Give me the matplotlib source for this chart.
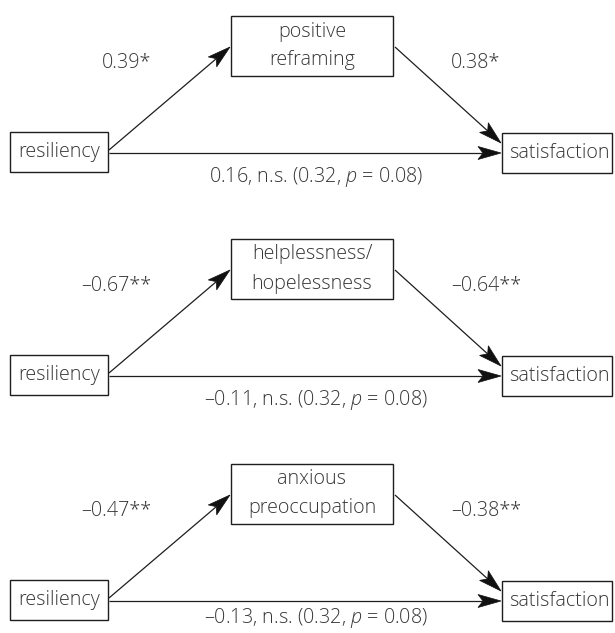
import matplotlib
matplotlib.use("Agg")
import matplotlib.pyplot as plt
from matplotlib.patches import Rectangle, Polygon
import numpy as np

plt.rcParams['font.family'] = ['Open Sans', 'DejaVu Sans']
plt.rcParams['mathtext.fontset'] = 'custom'
plt.rcParams['mathtext.it'] = 'Open Sans:italic:light'
plt.rcParams['mathtext.rm'] = 'Open Sans:light'

# donnees du modele de mediation
predictor = "resiliency"
outcome = "satisfaction"
mediators = ["positive\nreframing", "helplessness/\nhopelessness", "anxious\npreoccupation"]
a_paths = ["0.39*", "\u20130.67**", "\u20130.47**"]
b_paths = ["0.38*", "\u20130.64**", "\u20130.38**"]
direct = ["0.16", "\u20130.11", "\u20130.13"]
total = "(0.32, $p$ = 0.08)"

# mise en page (pixels)
W, H = 615, 633
row_y = [152, 375, 600]
cap_dy = [25, 25, 18]
txt_col = "#363636"
box_col = "#1e1e1e"
fs = 14.2
fw = 'light'


def box(ax, x0, x1, y0, y1):
    ax.add_patch(Rectangle((x0, y0), x1 - x0, y1 - y0, fill=False,
                           ec=box_col, lw=1.0))


def arrow(ax, x0, y0, x1, y1, L=23, hw=6.5, notch=5):
    d = np.array([x1 - x0, y1 - y0], dtype=float)
    u = d / np.hypot(*d)
    p = np.array([-u[1], u[0]])
    tip = np.array([x1, y1])
    base = tip - u * L
    nb = tip - u * (L - notch)
    ax.plot([x0, nb[0]], [y0, nb[1]], color=box_col, lw=0.9,
            solid_capstyle='butt')
    ax.add_patch(Polygon([tip, base + p * hw, nb, base - p * hw],
                         closed=True, fc="#111111", ec="#111111", lw=0.5))


fig = plt.figure(figsize=(W / 100, H / 100), dpi=100)
ax = fig.add_axes([0, 0, 1, 1])
ax.set_xlim(0, W)
ax.set_ylim(H, 0)
ax.axis('off')

for i in range(len(mediators)):
    yc = row_y[i]
    mtop = yc - 136
    # boites
    box(ax, 10, 108, yc - 20, yc + 20)
    box(ax, 502, 612, yc - 19, yc + 21)
    box(ax, 231, 393, mtop, mtop + 60)
    ax.text(59, yc, predictor, ha='center', va='center', fontsize=fs,
            fontweight=fw, color=txt_col)
    ax.text(559, yc + 1, outcome, ha='center', va='center', fontsize=fs,
            fontweight=fw, color=txt_col)
    ax.text(312, mtop + 30, mediators[i], ha='center', va='center',
            fontsize=fs, fontweight=fw, color=txt_col, linespacing=1.6)
    # fleches
    arrow(ax, 109, yc - 2, 230, mtop + 31)
    arrow(ax, 395, mtop + 31, 501, yc - 9)
    arrow(ax, 109, yc + 1, 501, yc + 1)
    # coefficients
    ax.text(151, mtop + 47, a_paths[i], ha='right', va='center', fontsize=fs,
            fontweight=fw, color=txt_col)
    ax.text(451, mtop + 47, b_paths[i], ha='left', va='center', fontsize=fs,
            fontweight=fw, color=txt_col)
    ax.text(316, yc + cap_dy[i], direct[i] + ", n.s. " + total, ha='center',
            va='center', fontsize=fs, fontweight=fw, color=txt_col)

fig.savefig("out.png", dpi=100)
